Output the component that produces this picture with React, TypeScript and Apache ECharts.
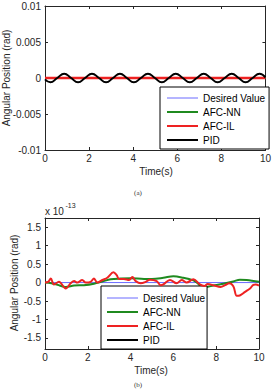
import React, { useEffect, useRef } from 'react';
import * as echarts from 'echarts';

const FONT = 'Arial, "Liberation Sans", Helvetica, sans-serif';
const SERIF = '"Times New Roman", "Liberation Serif", serif';
const TEXT = '#262626';

const seriesNames = ['Desired Value', 'AFC-NN', 'AFC-IL', 'PID'];
const seriesColors = ['#6a6aff', '#1f8a1f', '#ee2222', '#000000'];
const seriesWidths = [1, 2, 2.5, 2];

const xTicks = [0, 2, 4, 6, 8, 10];
const topYTicks = [-0.01, -0.005, 0, 0.005, 0.01];
const bottomYTicks = [-1.5, -1, -0.5, 0, 0.5, 1, 1.5];
const bottomScaleText = ['x 10', '-13'];
const xTitle = 'Time(s)';
const yTitle = 'Angular Position (rad)';

// (a) angular position (rad)
const topDesired = [[0, 0], [10, 0]];
const topAfcNN = [[0, 0], [10, 0]];
const topAfcIL = [[0, 0], [10, 0]];
const topPID = [
  [0, -0.0002], [0.24, -0.0006], [0.555, 0], [0.87, 0.0006], [1.185, 0],
  [1.5, -0.0006], [1.815, 0], [2.13, 0.0006], [2.45, 0], [2.77, -0.0006],
  [3.085, 0], [3.4, 0.0006], [3.715, 0], [4.03, -0.0006], [4.35, 0],
  [4.67, 0.0006], [4.985, 0], [5.3, -0.0006], [5.615, 0], [5.93, 0.0006],
  [6.25, 0], [6.57, -0.0006], [6.885, 0], [7.2, 0.0006], [7.515, 0],
  [7.83, -0.0006], [8.15, 0], [8.47, 0.0006], [8.785, 0], [9.1, -0.0006],
  [9.415, 0], [9.73, 0.0006], [10, 0.0001],
];

// (b) angular position in units of 1e-13 rad
const bottomDesired = [[0, 0], [10, 0]];
const bottomAfcNN = [
  [0, 0], [0.3, -0.02], [0.58, -0.06], [0.97, -0.12], [1.36, -0.08],
  [1.82, -0.07], [2.29, -0.03], [2.68, 0.03], [3.07, 0.09], [3.54, 0.11],
  [4.0, 0.12], [4.63, 0.1], [5.0, 0.1], [5.53, 0.13], [6.0, 0.17],
  [6.46, 0.13], [6.93, 0.06], [7.1, 0.0], [7.3, -0.1], [7.5, -0.12],
  [7.87, -0.08], [8.33, -0.03], [8.8, 0.03], [9.11, 0.08], [9.42, 0.07],
  [10, 0.02],
];
const bottomAfcIL = [
  [0, 0], [0.15, 0.02], [0.27, 0.11], [0.42, -0.05], [0.65, 0.02],
  [0.97, -0.16], [1.2, -0.02], [1.36, 0.04], [1.51, 0], [1.74, 0.07],
  [1.9, 0], [2.13, 0.02], [2.29, 0.11], [2.44, 0], [2.68, 0.07],
  [2.91, 0.13], [3.2, 0.28], [3.35, 0.2], [3.46, 0.1], [3.69, 0.1],
  [3.93, 0.07], [4.08, 0.15], [4.24, 0.04], [4.47, -0.02], [4.71, 0.02],
  [4.9, 0.08], [5.22, 0.04], [5.4, -0.07], [5.53, -0.05], [5.84, 0.07],
  [6.15, -0.02], [6.39, 0.07], [6.62, 0], [6.93, 0.09], [7.24, -0.05],
  [7.45, -0.09], [7.6, -0.04], [7.9, -0.08], [8.2, -0.12], [8.45, -0.06],
  [8.6, -0.02], [8.8, -0.1], [8.96, -0.36], [9.1, -0.35], [9.35, -0.25],
  [9.58, -0.16], [9.74, -0.06], [9.85, -0.05], [10, -0.08],
];
const bottomPID: number[][] = [];

const topData = [topDesired, topAfcNN, topAfcIL, topPID];
const bottomData = [bottomDesired, bottomAfcNN, bottomAfcIL, bottomPID];

function mainX(gridIndex: number) {
  return {
    type: 'value', gridIndex, min: 0, max: 10, interval: 2, position: 'bottom',
    axisLine: { show: true, onZero: false, lineStyle: { color: TEXT, width: 1 } },
    axisTick: { show: true, inside: true, length: 3, lineStyle: { color: TEXT }, customValues: xTicks },
    axisLabel: { margin: 3, fontFamily: FONT, fontSize: 10, color: TEXT, customValues: xTicks },
    splitLine: { show: false },
  };
}
function mirrorX(gridIndex: number) {
  return {
    type: 'value', gridIndex, min: 0, max: 10, interval: 2, position: 'top',
    axisLine: { show: true, onZero: false, lineStyle: { color: TEXT, width: 1 } },
    axisTick: { show: true, inside: true, length: 3, lineStyle: { color: TEXT }, customValues: xTicks },
    axisLabel: { show: false }, splitLine: { show: false },
  };
}

export default function App() {
  const ref = useRef<HTMLDivElement>(null);
  useEffect(() => {
    if (!ref.current) return;
    const chart = echarts.init(ref.current, undefined, { renderer: 'svg' });
    const series: any[] = [];
    seriesNames.forEach((name, i) => {
      series.push({
        name, type: 'line', xAxisIndex: 0, yAxisIndex: 0, data: topData[i],
        symbol: 'none', smooth: i === 3 ? 0.5 : false, z: 2 + i,
        lineStyle: { color: seriesColors[i], width: seriesWidths[i] },
        itemStyle: { color: seriesColors[i] },
      });
    });
    seriesNames.forEach((name, i) => {
      series.push({
        name, type: 'line', xAxisIndex: 2, yAxisIndex: 2, data: bottomData[i],
        symbol: 'none', smooth: i === 0 ? false : 0.35, z: 2 + i,
        lineStyle: { color: seriesColors[i], width: i === 0 ? 1 : 2 },
        itemStyle: { color: seriesColors[i] },
      });
    });
    const legendData = seriesNames.map((name, i) => ({
      name,
      itemStyle: { color: 'rgba(0,0,0,0)', borderColor: 'rgba(0,0,0,0)', borderWidth: 0 },
      lineStyle: { color: seriesColors[i], width: i === 0 ? 1 : 2 },
    }));
    const legendBase = {
      orient: 'vertical', itemWidth: 31, itemHeight: 10, itemGap: 4,
      backgroundColor: '#ffffff', borderColor: '#000000', borderWidth: 1,
      borderRadius: 0, data: legendData,
      textStyle: { fontFamily: FONT, fontSize: 10, color: '#000000' },
      selectedMode: false,
    };
    const title = (text: string, x: number, y: number, rot: number) => ({
      type: 'text', x, y, rotation: rot,
      style: { text, fontFamily: FONT, fontSize: 10, fill: TEXT, align: 'center', verticalAlign: 'middle' },
    });
    chart.setOption({
      animation: false,
      backgroundColor: '#ffffff',
      grid: [
        { left: 45, top: 6, width: 224, height: 144 },
        { left: 45, top: 218, width: 214, height: 131 },
      ],
      xAxis: [mainX(0), mirrorX(0), mainX(1), mirrorX(1)],
      yAxis: [
        {
          type: 'value', gridIndex: 0, min: -0.01, max: 0.01, interval: 0.005,
          axisLine: { show: true, onZero: false, lineStyle: { color: TEXT, width: 1 } },
          axisTick: { show: true, inside: true, length: 3, lineStyle: { color: TEXT }, customValues: topYTicks },
          axisLabel: { margin: 4, fontFamily: FONT, fontSize: 10, color: TEXT, customValues: topYTicks },
          splitLine: { show: false },
        },
        {
          type: 'value', gridIndex: 0, min: -0.01, max: 0.01, interval: 0.005, position: 'right',
          axisLine: { show: true, onZero: false, lineStyle: { color: TEXT, width: 1 } },
          axisTick: { show: true, inside: true, length: 3, lineStyle: { color: TEXT }, customValues: topYTicks },
          axisLabel: { show: false }, splitLine: { show: false },
        },
        {
          type: 'value', gridIndex: 1, min: -1.8, max: 1.75,
          axisLine: { show: true, onZero: false, lineStyle: { color: TEXT, width: 1 } },
          axisTick: { show: true, inside: true, length: 3, lineStyle: { color: TEXT }, customValues: bottomYTicks },
          axisLabel: { margin: 4, fontFamily: FONT, fontSize: 10, color: TEXT, customValues: bottomYTicks },
          splitLine: { show: false },
        },
        {
          type: 'value', gridIndex: 1, min: -1.8, max: 1.75, position: 'right',
          axisLine: { show: true, onZero: false, lineStyle: { color: TEXT, width: 1 } },
          axisTick: { show: true, inside: true, length: 3, lineStyle: { color: TEXT }, customValues: bottomYTicks },
          axisLabel: { show: false }, splitLine: { show: false },
        },
      ],
      legend: [
        { ...legendBase, left: 160, top: 87, padding: [6, 4, 4, 6] },
        { ...legendBase, left: 101, top: 286, padding: [7, 2, 4, 5] },
      ],
      graphic: [
        title(yTitle, 6.5, 78, Math.PI / 2),
        title(xTitle, 156, 171, 0),
        title(yTitle, 14.5, 283, Math.PI / 2),
        title(xTitle, 151, 370.5, 0),
        {
          type: 'text', x: 45, y: 211,
          style: { text: bottomScaleText[0], fontFamily: FONT, fontSize: 10, fill: TEXT, verticalAlign: 'middle' },
        },
        {
          type: 'text', x: 65.5, y: 205.5,
          style: { text: bottomScaleText[1], fontFamily: FONT, fontSize: 7, fill: TEXT, verticalAlign: 'middle' },
        },
        {
          type: 'text', x: 138, y: 193,
          style: { text: '(a)', fontFamily: SERIF, fontSize: 7, fill: '#333', align: 'center', verticalAlign: 'middle' },
        },
        {
          type: 'text', x: 138, y: 384.5,
          style: { text: '(b)', fontFamily: SERIF, fontSize: 7, fill: '#333', align: 'center', verticalAlign: 'middle' },
        },
      ],
      series,
    });
    return () => chart.dispose();
  }, []);
  return (
    <div
      ref={ref}
      style={{ position: 'fixed', left: 0, top: 0, width: 274, height: 389, background: '#fff' }}
    />
  );
}
